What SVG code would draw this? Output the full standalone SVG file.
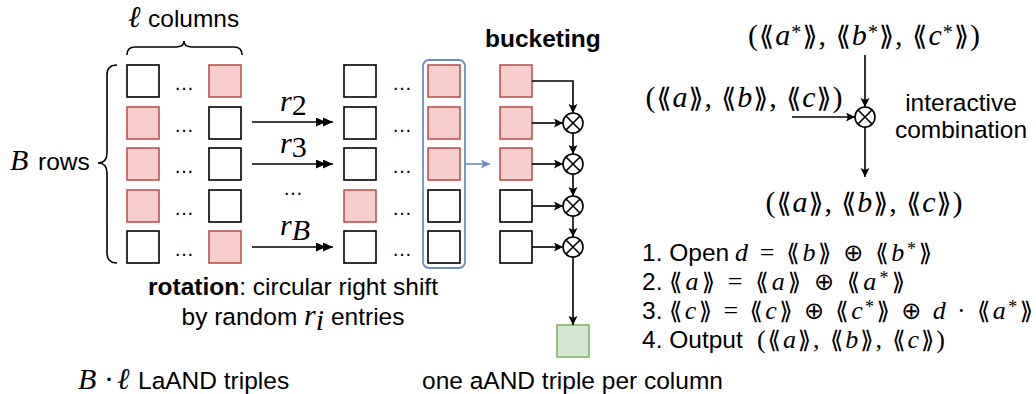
<svg xmlns="http://www.w3.org/2000/svg" width="1036" height="394" viewBox="0 0 1036 394">
<style>
.s{font-family:"Liberation Sans",Arial,sans-serif;font-size:24.5px;fill:#000}
.bd{font-weight:bold}
.m{font-family:"Liberation Serif","Times New Roman",serif;font-size:30px;fill:#000}
.i{font-style:italic}
.br{font-family:"DejaVu Sans",sans-serif;font-size:27px}
text.L{font-size:26px}
.L .br{font-size:24px}
.w{fill:#fff;stroke:#000;stroke-width:1.6}
.r{fill:#f8cecc;stroke:#b85450;stroke-width:1.6}
.g{fill:#d5e8d4;stroke:#82b366;stroke-width:1.6}
.ln{fill:none;stroke:#000;stroke-width:1.6}
.dots{font-family:"Liberation Sans",Arial,sans-serif;font-size:20px;text-anchor:middle}
</style>
<defs>
<marker id="ar" markerUnits="userSpaceOnUse" markerWidth="10" markerHeight="10" refX="9" refY="4.5" orient="auto">
<path d="M0,0 L9,4.5 L0,9 L2,4.5 Z" fill="#000"/>
</marker>
<marker id="ar2" markerUnits="userSpaceOnUse" markerWidth="18" markerHeight="10" refX="17" refY="4.5" orient="auto">
<path d="M0,0 L10,4.5 L0,9 Z M7,0 L17,4.5 L7,9 Z" fill="#000"/>
</marker>
<marker id="arb" markerUnits="userSpaceOnUse" markerWidth="10" markerHeight="10" refX="9" refY="4.5" orient="auto">
<path d="M0,0 L9,4.5 L0,9 L2,4.5 Z" fill="#6c8ebf"/>
</marker>
<g id="otimes">
<circle r="10" fill="#fff" stroke="#000" stroke-width="1.6"/>
<path d="M-7,-7 L7,7 M-7,7 L7,-7" stroke="#000" stroke-width="1.6"/>
</g>
</defs>

<!-- labels -->
<g id="labels">
<text x="128" y="27"><tspan class="m i" font-size="27">ℓ</tspan><tspan class="s" x="148">columns</tspan></text>
<text x="10" y="170"><tspan class="m i" font-size="32">B</tspan><tspan class="s" x="38">rows</tspan></text>
<text class="s bd" x="485" y="47">bucketing</text>
<text class="s" x="293" y="295" text-anchor="middle"><tspan class="bd">rotation</tspan>: circular right shift</text>
<text class="s" x="293" y="325" text-anchor="middle">by random <tspan class="m i" font-size="30">r</tspan><tspan class="m i" font-size="19" dy="5">i</tspan><tspan dy="-5"> entries</tspan></text>
<text x="78" y="389"><tspan class="m i" font-size="32">B</tspan><tspan class="m" x="104">·</tspan><tspan class="m i" font-size="27" x="117">ℓ</tspan><tspan class="s" x="138">LaAND triples</tspan></text>
<text class="s" x="422" y="389">one aAND triple per column</text>
</g>

<!-- grid columns -->
<g id="col1">
<rect class="w" x="127" y="65" width="32" height="32"/>
<rect class="r" x="127" y="107" width="32" height="32"/>
<rect class="r" x="127" y="148" width="32" height="32"/>
<rect class="r" x="127" y="190" width="32" height="32"/>
<rect class="w" x="127" y="231" width="32" height="32"/>
</g>
<g id="col2">
<rect class="r" x="209" y="65" width="32" height="32"/>
<rect class="w" x="209" y="107" width="32" height="32"/>
<rect class="w" x="209" y="148" width="32" height="32"/>
<rect class="w" x="209" y="190" width="32" height="32"/>
<rect class="r" x="209" y="231" width="32" height="32"/>
</g>
<g id="col3">
<rect class="w" x="344" y="65" width="32" height="32"/>
<rect class="w" x="344" y="107" width="32" height="32"/>
<rect class="w" x="344" y="148" width="32" height="32"/>
<rect class="r" x="344" y="190" width="32" height="32"/>
<rect class="w" x="344" y="231" width="32" height="32"/>
</g>
<g id="col4">
<rect x="423" y="60" width="42" height="208" rx="6" fill="none" stroke="#6c8ebf" stroke-width="1.8"/>
<rect class="r" x="428" y="65" width="32" height="32"/>
<rect class="r" x="428" y="107" width="32" height="32"/>
<rect class="r" x="428" y="148" width="32" height="32"/>
<rect class="w" x="428" y="190" width="32" height="32"/>
<rect class="w" x="428" y="231" width="32" height="32"/>
</g>
<g id="col5">
<rect class="r" x="500" y="65" width="32" height="32"/>
<rect class="r" x="500" y="107" width="32" height="32"/>
<rect class="r" x="500" y="148" width="32" height="32"/>
<rect class="w" x="500" y="190" width="32" height="32"/>
<rect class="w" x="500" y="231" width="32" height="32"/>
</g>
<g id="result">
<rect class="g" x="557" y="325" width="32" height="32"/>
</g>
<g id="dots">
<text class="dots" x="184" y="90">…</text>
<text class="dots" x="184" y="132">…</text>
<text class="dots" x="184" y="173">…</text>
<text class="dots" x="184" y="215">…</text>
<text class="dots" x="184" y="256">…</text>
<text class="dots" x="402" y="90">…</text>
<text class="dots" x="402" y="132">…</text>
<text class="dots" x="402" y="173">…</text>
<text class="dots" x="402" y="215">…</text>
<text class="dots" x="402" y="256">…</text>
<text class="dots" x="293" y="195">…</text>
</g>
<g id="combiners">
<use href="#otimes" x="573" y="123"/>
<use href="#otimes" x="573" y="164"/>
<use href="#otimes" x="573" y="206"/>
<use href="#otimes" x="573" y="247"/>
<use href="#otimes" x="865" y="117"/>
</g>

<!-- braces -->
<g id="braces">
<path class="ln" d="M117,65 Q107,65 107,75 L107,153 Q107,163 98,163 Q107,163 107,173 L107,253 Q107,263 117,263"/>
<path class="ln" d="M127,55 Q127,47 135,47 L176,47 Q184,47 184,41 Q184,47 192,47 L234,47 Q242,47 242,55"/>
</g>

<!-- connectors -->
<g id="connectors">
<line class="ln" x1="252" y1="122" x2="333" y2="122" marker-end="url(#ar2)"/>
<line class="ln" x1="252" y1="164" x2="333" y2="164" marker-end="url(#ar2)"/>
<line class="ln" x1="252" y1="247" x2="333" y2="247" marker-end="url(#ar2)"/>
<line x1="465" y1="164" x2="490" y2="164" stroke="#6c8ebf" stroke-width="1.6" marker-end="url(#arb)"/>
<path class="ln" d="M532,81 L573,81 L573,113" marker-end="url(#ar)"/>
<line class="ln" x1="532" y1="123" x2="563" y2="123" marker-end="url(#ar)"/>
<line class="ln" x1="532" y1="164" x2="563" y2="164" marker-end="url(#ar)"/>
<line class="ln" x1="532" y1="206" x2="563" y2="206" marker-end="url(#ar)"/>
<line class="ln" x1="532" y1="247" x2="563" y2="247" marker-end="url(#ar)"/>
<line class="ln" x1="573" y1="133" x2="573" y2="154" marker-end="url(#ar)"/>
<line class="ln" x1="573" y1="174" x2="573" y2="196" marker-end="url(#ar)"/>
<line class="ln" x1="573" y1="216" x2="573" y2="237" marker-end="url(#ar)"/>
<line class="ln" x1="573" y1="257" x2="573" y2="325" marker-end="url(#ar)"/>
<line class="ln" x1="865" y1="55" x2="865" y2="107" marker-end="url(#ar)"/>
<line class="ln" x1="792" y1="117" x2="855" y2="117" marker-end="url(#ar)"/>
<line class="ln" x1="865" y1="127" x2="865" y2="177" marker-end="url(#ar)"/>
</g>

<g id="rlabels">
<text x="280" y="111"><tspan class="m i" font-size="30">r</tspan><tspan class="m" font-size="19" dy="4">2</tspan></text>
<text x="280" y="153"><tspan class="m i" font-size="30">r</tspan><tspan class="m" font-size="19" dy="4">3</tspan></text>
<text x="280" y="235"><tspan class="m i" font-size="30">r</tspan><tspan class="m i" font-size="19" dy="5">B</tspan></text>
</g>

<!-- right side -->
<g id="math">
<text class="m" x="864" y="45" text-anchor="middle" textLength="232" lengthAdjust="spacing">(<tspan class="br">⟪</tspan><tspan class="i">a</tspan><tspan font-size="20" dy="-6">*</tspan><tspan class="br" dy="6">⟫</tspan>, <tspan class="br">⟪</tspan><tspan class="i">b</tspan><tspan font-size="20" dy="-6">*</tspan><tspan class="br" dy="6">⟫</tspan>, <tspan class="br">⟪</tspan><tspan class="i">c</tspan><tspan font-size="20" dy="-6">*</tspan><tspan class="br" dy="6">⟫</tspan>)</text>
<text class="m" x="744" y="107" text-anchor="middle" textLength="197" lengthAdjust="spacing">(<tspan class="br">⟪</tspan><tspan class="i">a</tspan><tspan class="br">⟫</tspan>, <tspan class="br">⟪</tspan><tspan class="i">b</tspan><tspan class="br">⟫</tspan>, <tspan class="br">⟪</tspan><tspan class="i">c</tspan><tspan class="br">⟫</tspan>)</text>
<text class="s" x="961" y="111" text-anchor="middle">interactive</text>
<text class="s" x="961" y="138" text-anchor="middle">combination</text>
<text class="m" x="864" y="212" text-anchor="middle" textLength="197" lengthAdjust="spacing">(<tspan class="br">⟪</tspan><tspan class="i">a</tspan><tspan class="br">⟫</tspan>, <tspan class="br">⟪</tspan><tspan class="i">b</tspan><tspan class="br">⟫</tspan>, <tspan class="br">⟪</tspan><tspan class="i">c</tspan><tspan class="br">⟫</tspan>)</text>
<text class="s" x="642" y="261">1. Open</text>
<text class="m L" x="735" y="261" textLength="197" lengthAdjust="spacing"><tspan class="i">d</tspan> = <tspan class="br">⟪</tspan><tspan class="i">b</tspan><tspan class="br">⟫</tspan> <tspan class="br">⊕</tspan> <tspan class="br">⟪</tspan><tspan class="i">b</tspan><tspan font-size="18" dy="-6">*</tspan><tspan class="br" dy="6">⟫</tspan></text>
<text class="s" x="642" y="290">2.</text>
<text class="m L" x="669" y="290" textLength="236" lengthAdjust="spacing"><tspan class="br">⟪</tspan><tspan class="i">a</tspan><tspan class="br">⟫</tspan> = <tspan class="br">⟪</tspan><tspan class="i">a</tspan><tspan class="br">⟫</tspan> <tspan class="br">⊕</tspan> <tspan class="br">⟪</tspan><tspan class="i">a</tspan><tspan font-size="18" dy="-6">*</tspan><tspan class="br" dy="6">⟫</tspan></text>
<text class="s" x="642" y="319">3.</text>
<text class="m L" x="669" y="319" textLength="364" lengthAdjust="spacing"><tspan class="br">⟪</tspan><tspan class="i">c</tspan><tspan class="br">⟫</tspan> = <tspan class="br">⟪</tspan><tspan class="i">c</tspan><tspan class="br">⟫</tspan> <tspan class="br">⊕</tspan> <tspan class="br">⟪</tspan><tspan class="i">c</tspan><tspan font-size="18" dy="-6">*</tspan><tspan class="br" dy="6">⟫</tspan> <tspan class="br">⊕</tspan> <tspan class="i">d</tspan> · <tspan class="br">⟪</tspan><tspan class="i">a</tspan><tspan font-size="18" dy="-6">*</tspan><tspan class="br" dy="6">⟫</tspan></text>
<text class="s" x="642" y="348">4. Output</text>
<text class="m L" x="757" y="348" textLength="188" lengthAdjust="spacing">(<tspan class="br">⟪</tspan><tspan class="i">a</tspan><tspan class="br">⟫</tspan>, <tspan class="br">⟪</tspan><tspan class="i">b</tspan><tspan class="br">⟫</tspan>, <tspan class="br">⟪</tspan><tspan class="i">c</tspan><tspan class="br">⟫</tspan>)</text>
</g>
</svg>
